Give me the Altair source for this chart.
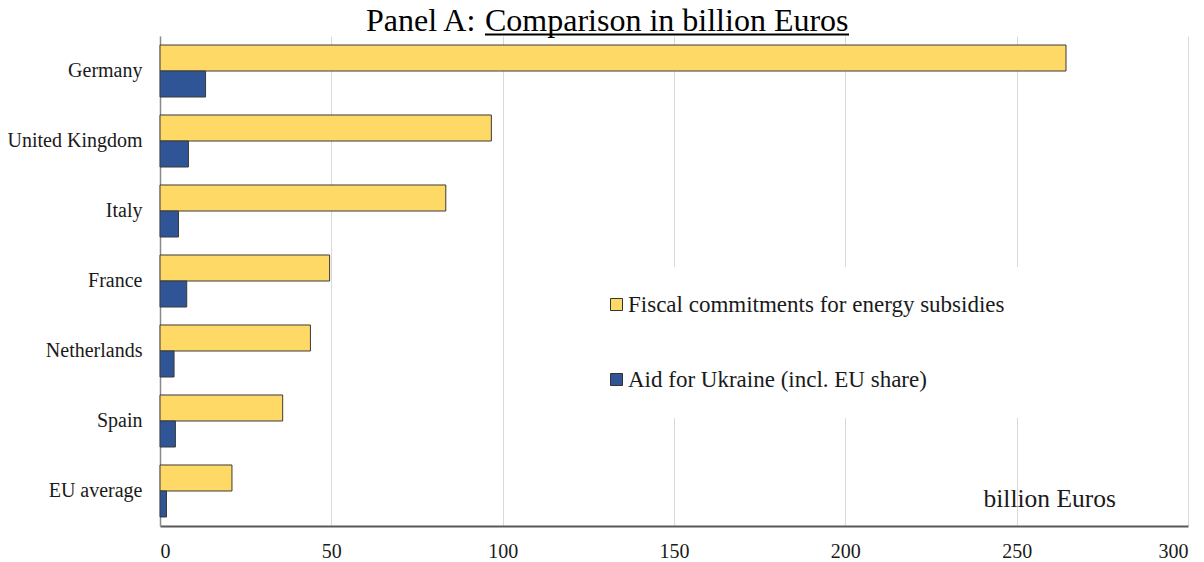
import altair as alt
import pandas as pd

countries = ["Germany", "United Kingdom", "Italy", "France", "Netherlands", "Spain", "EU average"]
energy_subsidies = [264.4, 96.7, 83.4, 49.5, 43.9, 35.8, 21.0]
ukraine_aid = [13.3, 8.3, 5.4, 7.8, 4.1, 4.5, 1.9]
series = ["Fiscal commitments for energy subsidies", "Aid for Ukraine (incl. EU share)"]
colors = ["#FFD966", "#2F5597"]
x_ticks = [0, 50, 100, 150, 200, 250, 300]
title_plain = "Panel A:"
title_underlined = "Comparison in billion Euros"
unit_text = "billion Euros"

rows = []
for c, e, a in zip(countries, energy_subsidies, ukraine_aid):
    rows.append({"country": c, "series": series[0], "value": e})
    rows.append({"country": c, "series": series[1], "value": a})
df = pd.DataFrame(rows)

FONT = "Liberation Serif"

bars = alt.Chart(df).mark_bar(stroke="#3a3a3a", strokeWidth=1).encode(
    y=alt.Y("country:N", sort=countries,
            scale=alt.Scale(paddingInner=0.257, paddingOuter=0.1286),
            axis=alt.Axis(title=None, labelFont=FONT, labelFontSize=20, labelColor="#1a1a1a",
                          labelPadding=18, ticks=False, tickSize=0, domainColor="#8a8a8a",
                          domainWidth=1.5, grid=False)),
    yOffset=alt.YOffset("series:N", sort=series),
    x=alt.X("value:Q", scale=alt.Scale(domain=[0, 300], nice=False),
            axis=alt.Axis(title=None, values=x_ticks, labelFont=FONT, labelFontSize=20,
                          labelColor="#1a1a1a", labelPadding=15, ticks=False, tickSize=0,
                          domainColor="#595959", domainWidth=2, grid=True,
                          gridColor="#d9d9d9", gridWidth=1)),
    color=alt.Color("series:N", sort=series,
                    scale=alt.Scale(domain=series, range=colors),
                    legend=alt.Legend(title=None, orient="none", legendX=419, legendY=231,
                                      fillColor="white", padding=26, rowPadding=51,
                                      symbolType="square", symbolSize=144,
                                      symbolStrokeColor="#333333", symbolStrokeWidth=1,
                                      labelFont=FONT, labelFontSize=23, labelColor="#1a1a1a",
                                      labelOffset=0, labelLimit=600)),
)

unit_label = alt.Chart(pd.DataFrame({"t": [unit_text]})).mark_text(
    font=FONT, fontSize=25.5, align="right", baseline="alphabetic", color="#1a1a1a"
).encode(text="t:N", x=alt.value(956), y=alt.value(471))

title_a = alt.Chart(pd.DataFrame({"t": [title_plain]})).mark_text(
    font=FONT, fontSize=32, align="left", baseline="alphabetic", color="#000000"
).encode(text="t:N", x=alt.value(206), y=alt.value(-5.5))

title_b = alt.Chart(pd.DataFrame({"t": [title_underlined]})).mark_text(
    font=FONT, fontSize=32, align="left", baseline="alphabetic", color="#000000"
).encode(text="t:N", x=alt.value(325), y=alt.value(-5.5))

underline = alt.Chart(pd.DataFrame({"t": [0]})).mark_rule(
    color="#000000", strokeWidth=2
).encode(x=alt.value(325), x2=alt.value(689), y=alt.value(-1.5))

chart = alt.layer(bars, unit_label, title_a, title_b, underline).properties(
    width=1028, height=490,
    autosize=alt.AutoSizeParams(type="none"),
    padding={"left": 152, "top": 28, "right": 8, "bottom": 38},
).configure_view(stroke=None)

chart.save("out.html", embed_options={"renderer": "svg", "actions": False})
